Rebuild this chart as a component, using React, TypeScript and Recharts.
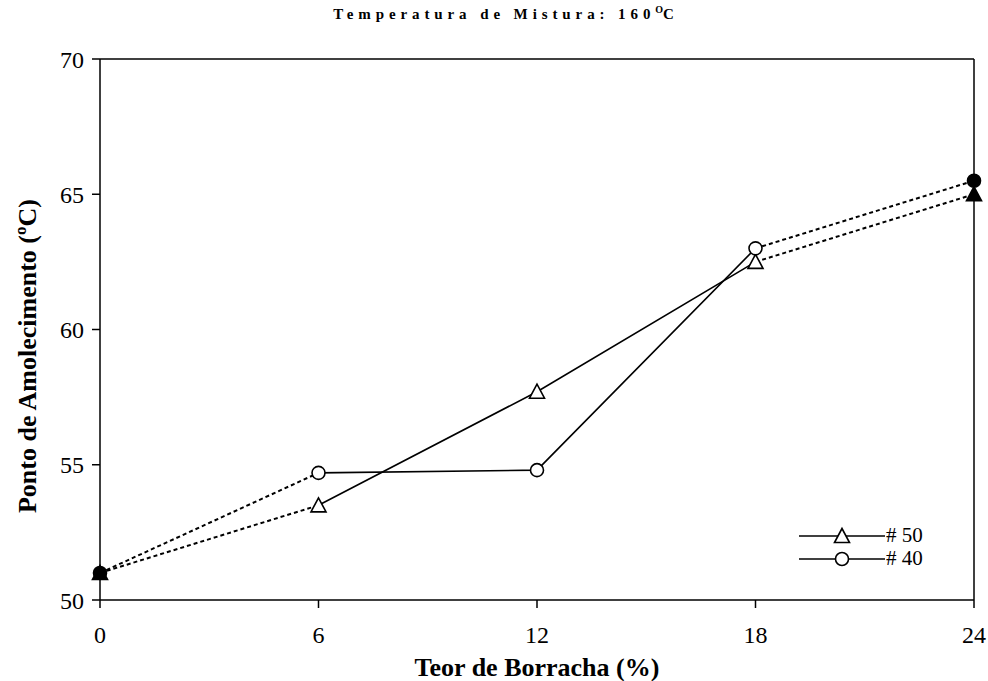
import React from "react";
import {
  LineChart, Line, XAxis, YAxis, ReferenceLine,
} from "recharts";

// teor de borracha (%) e ponto de amolecimento por malha
const teor = [0, 6, 12, 18, 24];
const malha50 = [51, 53.5, 57.7, 62.5, 65];
const malha40 = [51, 54.7, 54.8, 63, 65.5];
const xTicks = [0, 6, 12, 18, 24];
const yTicks = [50, 55, 60, 65, 70];
const legendLabels = ["# 50", "# 40"];

const FONT = "'Liberation Serif', 'Times New Roman', serif";
const last = teor.length - 1;

const data = teor.map((t, i) => ({
  teor: t,
  m50lo: i <= 1 ? malha50[i] : null,
  m50hi: i >= last - 1 ? malha50[i] : null,
  m50: i >= 1 && i <= last - 1 ? malha50[i] : null,
  m40lo: i <= 1 ? malha40[i] : null,
  m40hi: i >= last - 1 ? malha40[i] : null,
  m40: i >= 1 && i <= last - 1 ? malha40[i] : null,
}));

function Triangle({ cx, cy, filled }: { cx: number; cy: number; filled?: boolean }) {
  const h = 13, w = 15;
  const pts = `${cx},${cy - h / 2 - 1} ${cx - w / 2},${cy + h / 2} ${cx + w / 2},${cy + h / 2}`;
  return <polygon points={pts} fill={filled ? "#000" : "#fff"} stroke="#000" strokeWidth={1.6} />;
}

function Circle({ cx, cy, filled }: { cx: number; cy: number; filled?: boolean }) {
  return <circle cx={cx} cy={cy} r={6.5} fill={filled ? "#000" : "#fff"} stroke="#000" strokeWidth={1.6} />;
}

// marcador só nas pontas (0 e 24), cheio
const endDot = (Shape: typeof Triangle) => (props: any) => {
  const { cx, cy, index, value } = props;
  if (value == null || (index !== 0 && index !== last)) return <g key={`e${index}`} />;
  return <Shape key={`e${index}`} cx={cx} cy={cy} filled />;
};

const openDot = (Shape: typeof Triangle) => (props: any) => {
  const { cx, cy, index, value } = props;
  if (value == null) return <g key={`o${index}`} />;
  return <Shape key={`o${index}`} cx={cx} cy={cy} />;
};

function LegendBox() {
  const shapes = [Triangle, Circle];
  return (
    <div
      style={{
        position: "absolute",
        left: 799,
        top: 524,
        fontFamily: FONT,
        fontSize: 21,
        lineHeight: "23px",
      }}
    >
      {legendLabels.map((label, i) => {
        const Shape = shapes[i];
        return (
          <div key={label} style={{ display: "flex", alignItems: "center", height: 23 }}>
            <svg width={86} height={20}>
              <line x1={0} y1={10} x2={86} y2={10} stroke="#000" strokeWidth={1.5} />
              <Shape cx={43} cy={10} />
            </svg>
            <span style={{ marginLeft: 1 }}>{label}</span>
          </div>
        );
      })}
    </div>
  );
}

function YTitle() {
  return (
    <text
      x={30}
      y={356}
      transform="rotate(-90 30 356)"
      textAnchor="middle"
      dominantBaseline="middle"
      fontFamily={FONT}
      fontWeight="bold"
      fontSize={26}
      fill="#000"
    >
      Ponto de Amolecimento (ºC)
    </text>
  );
}

export default function App() {
  const axisLine = { stroke: "#000", strokeWidth: 1.5 };
  return (
    <div style={{ position: "absolute", left: 0, top: 0, width: 988, height: 681, background: "#fff" }}>
      <div
        style={{
          position: "absolute",
          left: 0,
          width: 1012,
          top: 4,
          textAlign: "center",
          fontFamily: FONT,
          fontWeight: "bold",
          fontSize: 15,
          letterSpacing: 4.9,
        }}
      >
        Temperatura de Mistura: 160<sup style={{ fontSize: 10, letterSpacing: 0 }}>O</sup>C
      </div>
      <LineChart
        width={988}
        height={681}
        data={data}
        margin={{ top: 59, right: 14, left: 0, bottom: 0 }}
      >
        <XAxis
          dataKey="teor"
          type="number"
          domain={[0, 24]}
          ticks={xTicks}
          interval={0}
          axisLine={axisLine}
          tickLine={axisLine}
          tickSize={8}
          tickMargin={18}
          height={81}
          tick={{ fill: "#000", fontFamily: FONT, fontSize: 24 }}
          label={{
            value: "Teor de Borracha (%)",
            position: "insideBottom",
            offset: 5,
            fill: "#000",
            fontFamily: FONT,
            fontWeight: "bold",
            fontSize: 26,
          }}
        />
        <YAxis
          type="number"
          domain={[50, 70]}
          ticks={yTicks}
          interval={0}
          width={100}
          axisLine={axisLine}
          tickLine={axisLine}
          tickSize={8}
          tickMargin={8}
          tick={{ fill: "#000", fontFamily: FONT, fontSize: 24 }}
          label={<YTitle />}
        />
        <ReferenceLine y={70} stroke="#000" strokeWidth={1.5} />
        <ReferenceLine x={24} stroke="#000" strokeWidth={1.5} />
        <Line dataKey="m50lo" stroke="#000" strokeWidth={2} strokeDasharray="4 3"
          dot={endDot(Triangle)} activeDot={false} isAnimationActive={false} />
        <Line dataKey="m50hi" stroke="#000" strokeWidth={2} strokeDasharray="4 3"
          dot={endDot(Triangle)} activeDot={false} isAnimationActive={false} />
        <Line dataKey="m40lo" stroke="#000" strokeWidth={2} strokeDasharray="4 3"
          dot={endDot(Circle)} activeDot={false} isAnimationActive={false} />
        <Line dataKey="m40hi" stroke="#000" strokeWidth={2} strokeDasharray="4 3"
          dot={endDot(Circle)} activeDot={false} isAnimationActive={false} />
        <Line dataKey="m50" stroke="#000" strokeWidth={1.6}
          dot={openDot(Triangle)} activeDot={false} isAnimationActive={false} />
        <Line dataKey="m40" stroke="#000" strokeWidth={1.6}
          dot={openDot(Circle)} activeDot={false} isAnimationActive={false} />
      </LineChart>
      <LegendBox />
    </div>
  );
}
